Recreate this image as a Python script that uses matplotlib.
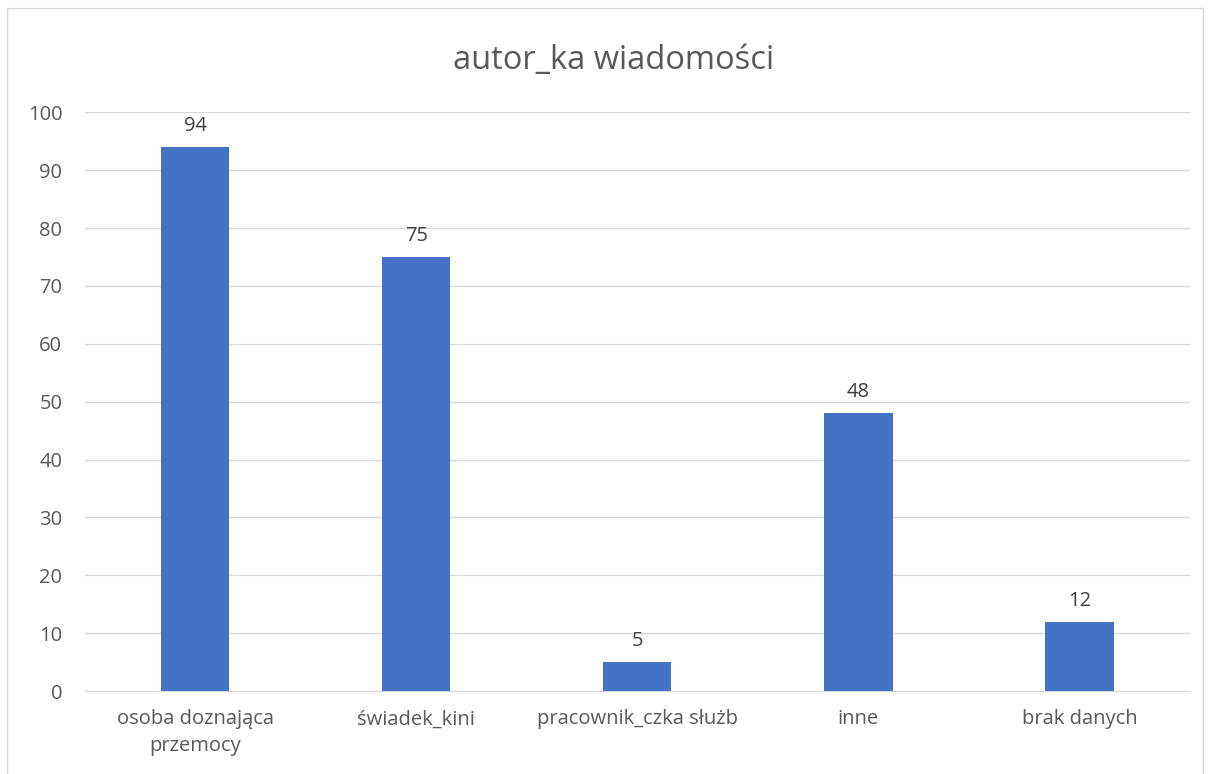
import matplotlib
matplotlib.use("Agg")
import matplotlib.pyplot as plt
from matplotlib.patches import Rectangle

categories = ["osoba doznająca\nprzemocy", "świadek_kini", "pracownik_czka służb", "inne", "brak danych"]
values = [94, 75, 5, 48, 12]
title = "autor_ka wiadomości"

plt.rcParams['font.family'] = ['Open Sans', 'DejaVu Sans']
text_color = "#595959"

fig = plt.figure(figsize=(12.08, 7.74), dpi=100)
ax = fig.add_axes([0.070, 0.107, 0.915, 0.748])

x = range(len(categories))
bars = ax.bar(x, values, width=0.31, color="#4472C4", zorder=3)
for xi, v in zip(x, values):
    ax.annotate(str(v), (xi, v), xytext=(0, 8), textcoords="offset points",
                ha="center", va="bottom", fontsize=14.5, color="#404040")

ax.set_xlim(-0.5, len(categories) - 0.5)
ax.set_ylim(0, 100)
ax.set_yticks(range(0, 101, 10))
ax.set_xticks(list(x))
ax.set_xticklabels(categories, fontsize=14.5, color=text_color, linespacing=1.45)
ax.tick_params(axis="y", labelsize=14.5, labelcolor=text_color, length=0, pad=16)
ax.tick_params(axis="x", length=0, pad=13)
ax.grid(axis="y", color="#D9D9D9", linewidth=1, zorder=0)
for s in ["top", "right", "left"]:
    ax.spines[s].set_visible(False)
ax.spines["bottom"].set_color("#D9D9D9")

fig.text(0.508, 0.922, title, ha="center", va="center", fontsize=23.5, color=text_color)

fig.patches.append(Rectangle((0.006, -0.01), 0.99, 1.0, transform=fig.transFigure,
                             fill=False, edgecolor="#D9D9D9", linewidth=1))

fig.savefig("out.png", dpi=100)
